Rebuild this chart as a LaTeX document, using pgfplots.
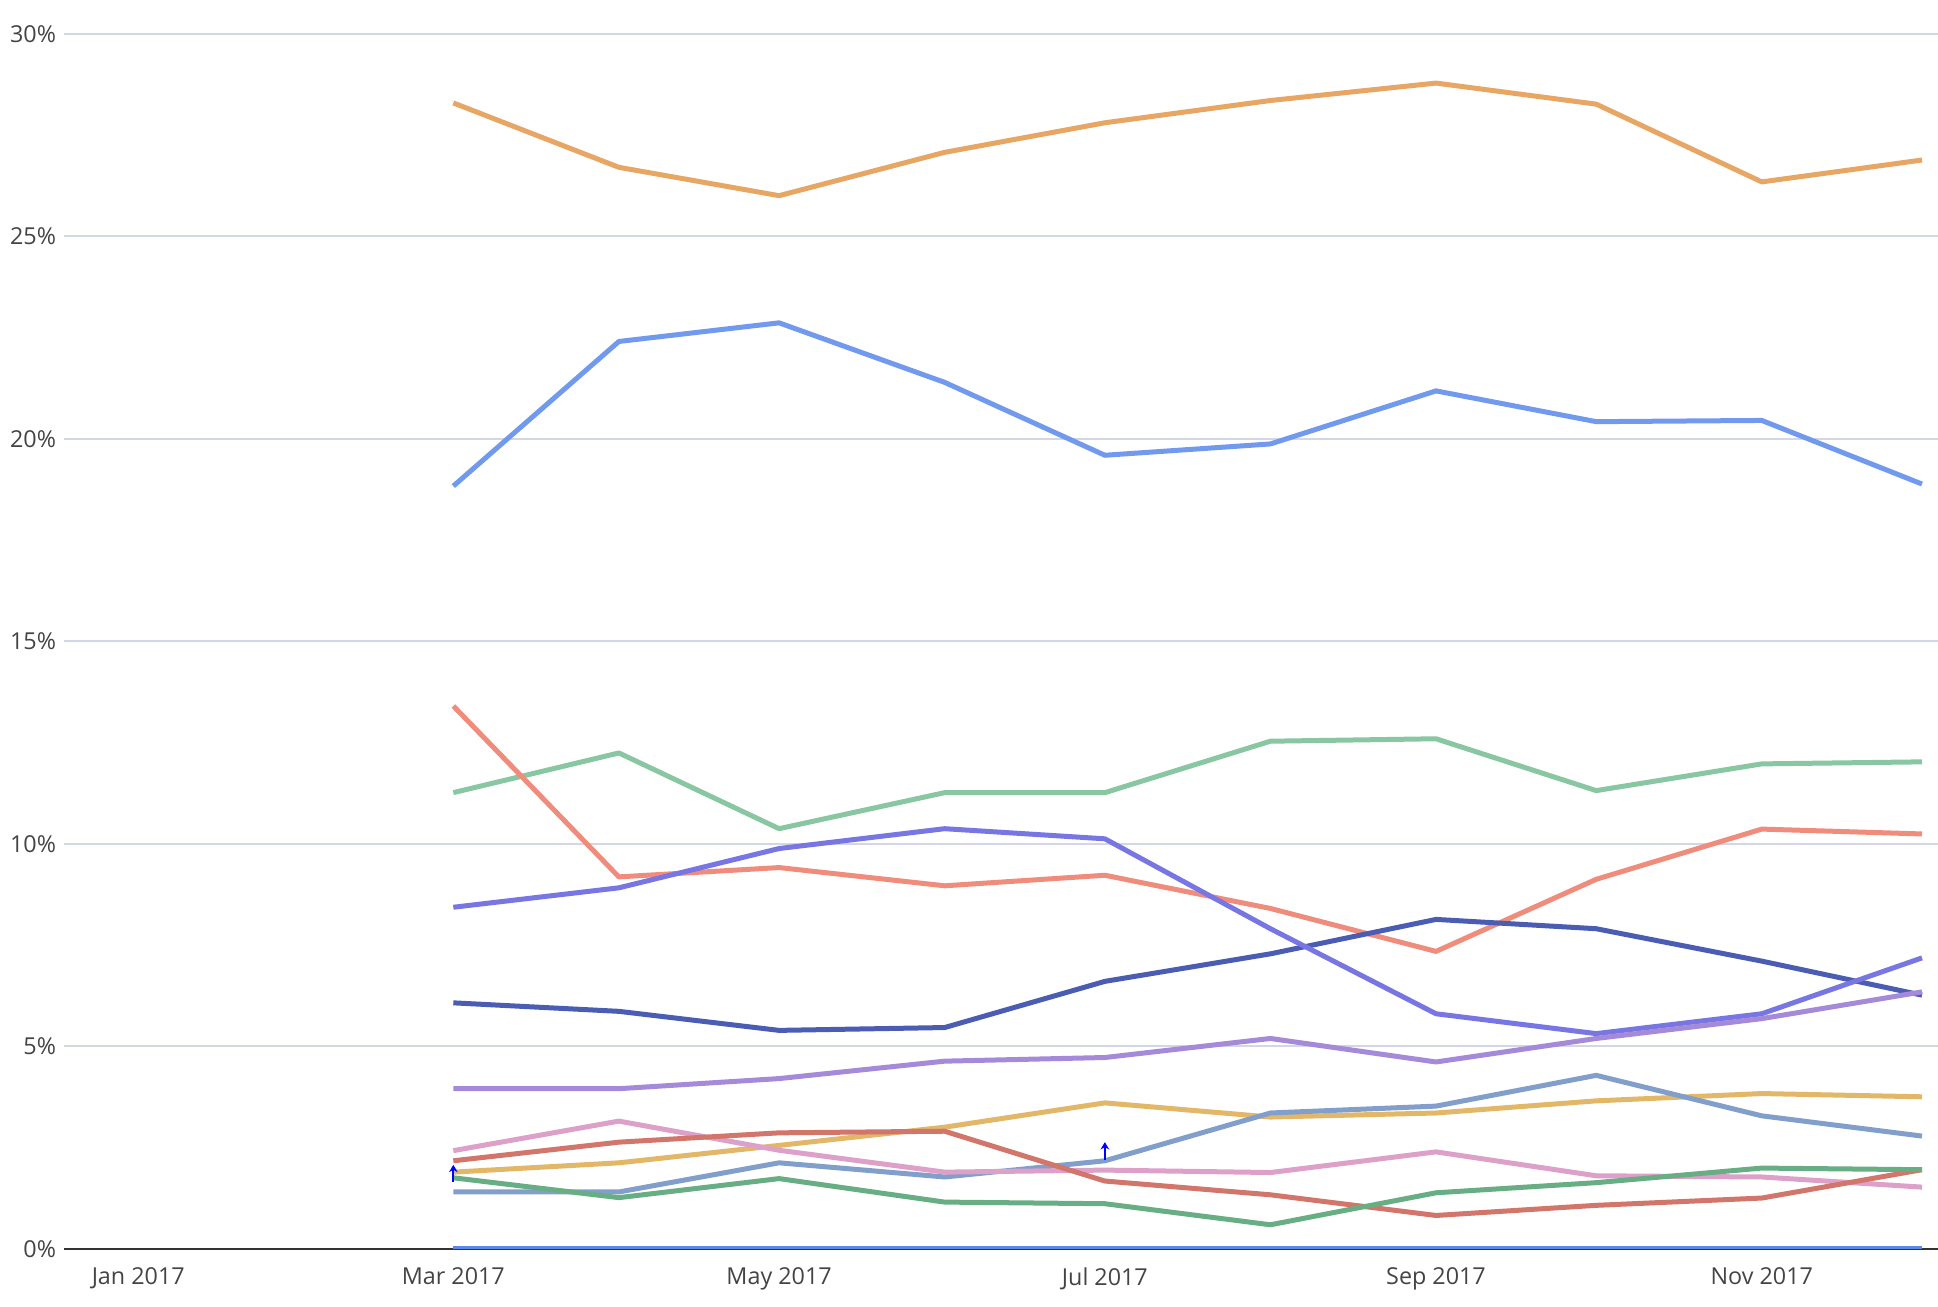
\documentclass[border=0pt]{standalone}
\usepackage{fontspec}
\setmainfont{Open Sans}
\usepackage{pgfplots}
\pgfplotsset{compat=1.18}
\usetikzlibrary{arrows.meta}
\definecolor{cOrange}{HTML}{E8A664}
\definecolor{cBlue}{HTML}{7199EE}
\definecolor{cLGreen}{HTML}{89C6A2}
\definecolor{cSalmon}{HTML}{EF8C7C}
\definecolor{cPurBlue}{HTML}{7776E3}
\definecolor{cDBlue}{HTML}{4A5DB2}
\definecolor{cLav}{HTML}{A48AD8}
\definecolor{cYellow}{HTML}{E2B768}
\definecolor{cSteel}{HTML}{819FCA}
\definecolor{cPink}{HTML}{DCA0C9}
\definecolor{cRed}{HTML}{D2756A}
\definecolor{cGreen}{HTML}{68AE84}
\definecolor{cZero}{HTML}{5B87E8}
\definecolor{cGrid}{HTML}{D3D6E4}
\definecolor{cText}{HTML}{444444}
\definecolor{cAxis}{HTML}{333333}
\begin{document}
\begin{tikzpicture}
\useasboundingbox (0,0) rectangle (581.4pt,391.8pt);
\begin{axis}[
  at={(19.2pt,17.2pt)}, anchor=south west,
  scale only axis, width=562.2pt, height=364.5pt,
  xmin=-13.9, xmax=337, ymin=0, ymax=30,
  axis lines*=left,
  y axis line style={draw=none},
  x axis line style={color=cAxis, line width=0.65pt},
  major tick length=0pt,
  ymajorgrids, grid style={color=cGrid, line width=0.5pt},
  xtick={0,59,120,181,243,304},
  xticklabels={Jan 2017,Mar 2017,May 2017,Jul 2017,Sep 2017,Nov 2017},
  ytick={0,5,10,15,20,25,30},
  yticklabels={0\%,5\%,10\%,15\%,20\%,25\%,30\%},
  tick label style={font=\fontsize{7}{8}\selectfont, text=cText, inner sep=0pt},
  xticklabel style={anchor=north, yshift=-5.6pt},
  yticklabel style={anchor=east, xshift=-2.2pt},
  every axis plot/.append style={line width=1.5pt, line join=round, mark=none},
]
\addplot[cOrange] coordinates {(59,28.29) (90,26.70) (120,26.00) (151,27.07) (181,27.80) (212,28.35) (243,28.78) (273,28.26) (304,26.34) (334,26.88)};
\addplot[cBlue] coordinates {(59,18.83) (90,22.40) (120,22.86) (151,21.39) (181,19.59) (212,19.87) (243,21.18) (273,20.42) (304,20.45) (334,18.88)};
\addplot[cLGreen] coordinates {(59,11.26) (90,12.24) (120,10.37) (151,11.26) (181,11.26) (212,12.53) (243,12.59) (273,11.31) (304,11.97) (334,12.02)};
\addplot[cSalmon] coordinates {(59,13.40) (90,9.18) (120,9.41) (151,8.96) (181,9.22) (212,8.40) (243,7.34) (273,9.12) (304,10.36) (334,10.24)};
\addplot[cDBlue] coordinates {(59,6.07) (90,5.86) (120,5.39) (151,5.46) (181,6.60) (212,7.28) (243,8.13) (273,7.90) (304,7.10) (334,6.26)};
\addplot[cPurBlue] coordinates {(59,8.43) (90,8.91) (120,9.88) (151,10.37) (181,10.12) (212,7.90) (243,5.80) (273,5.31) (304,5.80) (334,7.18)};
\addplot[cLav] coordinates {(59,3.95) (90,3.95) (120,4.20) (151,4.63) (181,4.72) (212,5.19) (243,4.61) (273,5.19) (304,5.68) (334,6.34)};
\addplot[cYellow] coordinates {(59,1.89) (90,2.12) (120,2.55) (151,3.00) (181,3.60) (212,3.25) (243,3.35) (273,3.65) (304,3.83) (334,3.75)};
\addplot[cSteel] coordinates {(59,1.40) (90,1.40) (120,2.12) (151,1.77) (181,2.17) (212,3.35) (243,3.52) (273,4.28) (304,3.28) (334,2.78)};
\addplot[cPink] coordinates {(59,2.42) (90,3.15) (120,2.43) (151,1.89) (181,1.94) (212,1.88) (243,2.39) (273,1.80) (304,1.77) (334,1.52)};
\addplot[cRed] coordinates {(59,2.17) (90,2.63) (120,2.86) (151,2.90) (181,1.67) (212,1.33) (243,0.82) (273,1.07) (304,1.25) (334,1.95)};
\addplot[cGreen] coordinates {(59,1.75) (90,1.26) (120,1.73) (151,1.15) (181,1.11) (212,0.59) (243,1.38) (273,1.63) (304,1.99) (334,1.95)};
\addplot[cZero] coordinates {(59,0) (90,0) (120,0) (151,0) (181,0) (212,0) (243,0) (273,0) (304,0) (334,0)};
\addplot[blue, line width=0.5pt, -{Stealth[length=2.2pt,width=2.6pt]},
  quiver={u=\thisrow{u}, v=\thisrow{v}}] table {
x y u v
59 1.65 0 0.42
181 2.18 0 0.45
};
\end{axis}
\end{tikzpicture}
\end{document}
